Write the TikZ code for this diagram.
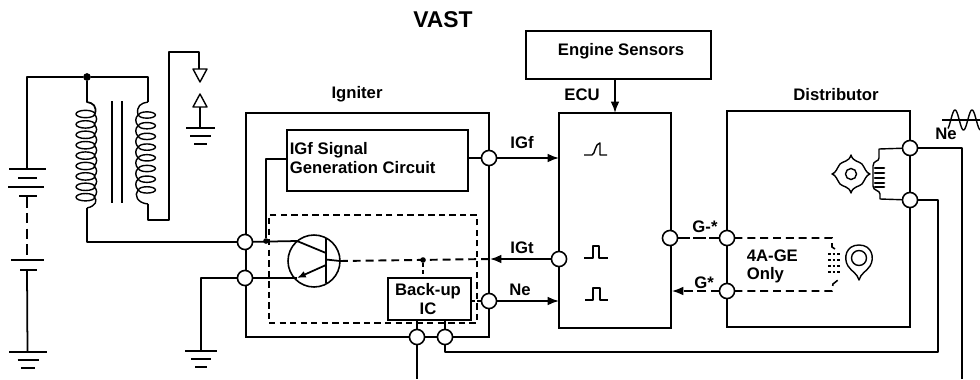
\documentclass[tikz,border=0pt]{standalone}
\usepackage{fontspec}
\setmainfont{Liberation Sans}
\usetikzlibrary{arrows.meta}
\def\u{0.02cm}
\newcommand{\gndsym}[5]{%
  \draw[wire] (#1-#3,#2) -- (#1+#3,#2);
  \draw[wire,line width=1.2pt] (#1-#4,#2+8) -- (#1+#4,#2+8);
  \draw[wire,line width=1.4pt] (#1-#5,#2+16) -- (#1+#5,#2+16);
}
\tikzset{
  x=0.02cm,y=-0.02cm,
  wire/.style={line width=1pt,line cap=butt,line join=round},
  thinw/.style={line width=0.8pt,line join=round},
  heavydash/.style={line width=1.1pt,dash pattern=on 4.5pt off 2.8pt},
  arrowend/.style={-{Latex[length=6.5pt,width=5pt]}},
  blockbox/.style={draw,line width=1pt,inner sep=0pt,outer sep=0pt},
  term/.style={circle,draw,fill=white,line width=0.9pt,minimum size=8.6pt,inner sep=0pt,outer sep=0pt},
  lbl/.style={inner sep=0pt,font=\fontsize{9.5}{10.6}\selectfont\bfseries},
  dot/.style={circle,fill=black,minimum size=3.2pt,inner sep=0pt,outer sep=0pt},
}
\begin{document}
\begin{tikzpicture}
\useasboundingbox (0,0) rectangle (980,379);
% blocks
\node[blockbox,minimum width=243*\u,minimum height=224*\u] (igniter) at (367.5,225) {};
\node[blockbox,minimum width=181*\u,minimum height=61*\u] (igfbox) at (377.5,160.5) {};
\node[blockbox,dashed,line width=0.7pt,dash pattern=on 3.6pt off 2.4pt,minimum width=208*\u,minimum height=108*\u] (dashbox) at (373,269) {};
\node[blockbox,minimum width=83*\u,minimum height=42*\u] (backup) at (429.5,299) {};
\node[blockbox,minimum width=112*\u,minimum height=215*\u] (ecu) at (615,220.5) {};
\node[blockbox,minimum width=185*\u,minimum height=48*\u] (sensors) at (618.5,55) {};
\node[blockbox,minimum width=183*\u,minimum height=216*\u] (dist) at (818.5,219) {};
\node[circle,draw,line width=0.9pt,minimum size=52*\u,inner sep=0pt,outer sep=0pt] (tr) at (314,261) {};
% terminals
\node[term] (t1) at (245,242) {};
\node[term] (t2) at (245,278) {};
\node[term] (t3) at (489,158) {};
\node[term] (t4) at (489,301) {};
\node[term] (t5) at (417,337) {};
\node[term] (t6) at (445,337) {};
\node[term] (e1) at (559,259) {};
\node[term] (e2) at (670,238) {};
\node[term] (d1) at (727,238) {};
\node[term] (d2) at (727,291) {};
\node[term] (d3) at (910,148) {};
\node[term] (d4) at (910,200) {};
% junctions and free ends
\node[dot,minimum size=4.4pt] (j1) at (87,77) {};
\node[dot] (j2) at (266,241) {};
\node[dot] (j3) at (423,260) {};
\coordinate (c1) at (297,241);
\coordinate (c2) at (297,278);
\coordinate (igentry) at (490,259);
\coordinate (endA) at (417,379);
\coordinate (endB) at (962,379);
% texts
\node[lbl,font=\fontsize{13}{15}\selectfont\bfseries] (title) at (443,19.5) {VAST};
\node[lbl] (nsens) at (621,51) {Engine Sensors};
\node[lbl] (nign) at (357,94) {Igniter};
\node[lbl] (necu) at (582,95) {ECU};
\node[lbl] (ndist) at (836,95) {Distributor};
\node[lbl,align=left,anchor=west] (nigf) at (289.5,158) {IGf Signal\\Generation Circuit};
\node[lbl,align=center] (nback) at (428,299) {Back-up\\IC};
\node[lbl] (lIGf) at (522,143) {IGf};
\node[lbl] (lIGt) at (522,248) {IGt};
\node[lbl] (lNe) at (520,290) {Ne};
\node[lbl] (lG1) at (705,227) {G-*};
\node[lbl] (lG2) at (704,283) {G*};
\node[lbl,align=left,anchor=west] (l4a) at (746.5,266.5) {4A-GE\\Only};
\node[lbl] (lNe2) at (946,134) {Ne};
% battery
\coordinate (batTop) at (27,169);
\coordinate (batBot) at (27,270);
\coordinate (g1) at (27.5,352);
\coordinate (g2) at (201,351);
\draw[wire] (j1) -- (27,77) -- (batTop);
\draw[wire,line width=1.5pt] (9,169) -- (46,169);
\draw[wire,line width=1.5pt] (18,178) -- (37,178);
\draw[wire,line width=1.5pt] (8,187) -- (44,187);
\draw[wire,line width=1.5pt] (19,196) -- (37,196);
\draw[wire,dash pattern=on 6pt off 3pt] (27,197) -- (27,259);
\draw[wire,line width=1.3pt] (11,260) -- (44,260);
\draw[wire,line width=1.5pt] (20,270) -- (37,270);
\draw[wire] (batBot) -- (g1);
\gndsym{28}{352}{19}{10.5}{7}
% ignition coil
\draw[wire] (j1) -- (148,77) -- (148,102);
\draw[wire] (j1) -- (87,102) .. controls (93,103) and (97,106) .. (95,114);
\foreach \i in {0,...,8}{
  \pgfmathsetmacro\cy{114+10.4*\i}
  \draw[thinw] (85.5,\cy) ellipse [x radius=5.4pt,y radius=2.1pt];
  \ifnum\i<8
    \draw[thinw] (94,\cy) .. controls (97.5,\cy+3) and (97.5,\cy+7) .. (94,\cy+10.4);
  \fi
}
\draw[thinw] (94,197) .. controls (98,200) and (96,206) .. (87,208);
\draw[wire] (87,208) |- (t1);
\draw[thinw] (148,102) .. controls (141,103) and (136,106) .. (138,115);
\foreach \i in {0,...,7}{
  \pgfmathsetmacro\cy{115+10.7*\i}
  \draw[thinw] (147,\cy) ellipse [x radius=4.8pt,y radius=1.8pt];
  \ifnum\i<7
    \draw[thinw] (138,\cy) .. controls (135,\cy+3) and (135,\cy+7) .. (138,\cy+10.7);
  \fi
}
\draw[thinw] (138,190) .. controls (134,195) and (137,203) .. (148,204);
\draw[wire] (148,204) -- (148,220) -- (169,220) -- (169,52) -- (199,52) -- (199,69);
\draw[thinw] (112,101) -- (112,203);
\draw[thinw] (122,101) -- (122,203);
% spark gap
\coordinate (gap1) at (200,82);
\coordinate (gap2) at (200,94);
\draw[thinw] (193,69) -- (207,69) -- (gap1) -- cycle;
\draw[thinw] (gap2) -- (207,107) -- (193,107) -- cycle;
\draw[wire] (200,107) -- (200,128);
\gndsym{200.5}{128}{14.5}{10.5}{6.5}
% second ground
\draw[wire] (t2) -| (g2);
\gndsym{201}{351}{16}{10}{6}
% transistor
\draw[wire] (t1) -- (c1);
\draw[wire] (t2) -- (c2);
\draw[wire] (j2) |- (igfbox.west |- 0,159);
\draw[wire] (c1) -- (326,253);
\draw[wire,-{Latex[length=5pt,width=4pt]}] (326,265) -- (c2);
\draw[wire] (326,238) -- (326,283);
\draw[wire] (326,259.5) -- (tr.east);
\draw[heavydash] (tr.east) -- (igentry);
\draw[thinw,dash pattern=on 2.5pt off 1.5pt] (j3) -- (j3 |- backup.north);
% igniter connections
\draw[wire] (igfbox.east |- t3) -- (t3);
\draw[wire,dash pattern=on 2.5pt off 1pt] (backup.east |- t4) -- (t4);
\draw[wire] (t5 |- backup.south) -- (t5);
\draw[wire] (t6 |- backup.south) -- (t6);
\draw[wire] (t5) -- (endA);
\draw[wire] (t6) |- (938,352) |- (d4);
\draw[wire] (d3) -| (endB);
% ECU connections
\draw[wire,arrowend] (t3) -- (ecu.west |- t3);
\draw[wire,arrowend] (e1) -- (igentry);
\draw[wire,arrowend] (t4) -- (ecu.west |- t4);
\draw[wire,arrowend] (ecu.north |- sensors.south) -- (ecu.north);
\draw[thinw,dash pattern=on 7pt off 2pt] (e2) -- (d1);
\draw[thinw,arrowend,dash pattern=on 5pt off 2.5pt] (d2) -- (672,291);
% pulses
\draw[thinw] (584,155) -- (592,155) .. controls (595,155) and (595,143) .. (600,143) -- (600,155) -- (607,155);
\draw[thinw] (584,258) -- (593,258) -- (593,246) -- (599,246) -- (599,258) -- (608,258);
\draw[thinw] (585,300) -- (593,300) -- (593,288) -- (600,288) -- (600,300) -- (608,300);
% 4A-GE pickup
\draw[heavydash,line width=0.9pt] (d1) -- (832,238) -- (832,247) -- (835,249);
\draw[heavydash,line width=0.9pt] (d2) -- (832,291) -- (833,284) -- (838,280);
\foreach \yy in {254,260,266,272}{
  \draw[line width=1.2pt,dash pattern=on 1.6pt off 1pt] (828,\yy) -- (840,\yy);
}
\draw[thinw] (859,280) .. controls (857,273) and (852,272) .. (848,266) .. controls (843,258) and (846,245) .. (859,245) .. controls (872,245) and (875,258) .. (870,266) .. controls (866,272) and (861,273) .. (859,280) -- cycle;
\node[circle,draw,line width=0.8pt,minimum size=15*\u,inner sep=0pt] (camhub) at (859,258) {};
% distributor rotor and pickup coil
\draw[thinw] (832,174) .. controls (836,173) and (837,168) .. (840,164) .. controls (843,161) and (849,162) .. (851,155)
  .. controls (853,162) and (859,161) .. (862,164) .. controls (865,168) and (866,173) .. (870,174)
  .. controls (866,175) and (865,180) .. (862,184) .. controls (859,187) and (853,186) .. (851,193)
  .. controls (849,186) and (843,187) .. (840,184) .. controls (837,180) and (836,175) .. (832,174) -- cycle;
\node[circle,draw,line width=0.8pt,minimum size=11*\u,inner sep=0pt] (hub) at (851,174) {};
\draw[thinw] (d3) -- (879,149) -- (879,158) .. controls (879,162) and (873,160) .. (873,166) -- (873,186) .. controls (873,191) and (880,190) .. (880,194) -- (880,199) -- (d4);
\foreach \yy in {168,173,178,183,187}{
  \draw[line width=1.5pt,line cap=round] (875,\yy) -- (884,\yy);
}
% Ne waveform
\draw[thinw] (942,120) -- (980,120);
\draw[thinw,smooth] plot[domain=948:980,samples=50] (\x,{120-10*sin(360*(\x-950.75)/17)});
\end{tikzpicture}
\end{document}
